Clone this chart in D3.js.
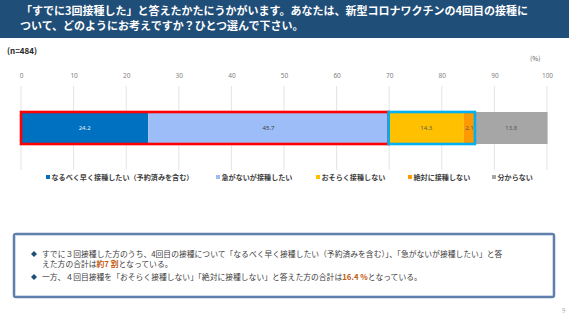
<!DOCTYPE html>
<html><head><meta charset="utf-8">
<script src="https://cdn.jsdelivr.net/npm/d3@7/dist/d3.min.js"></script>
<style>
body{margin:0;background:#fff;}
svg{display:block;font-family:"Noto Sans CJK JP","Noto Sans",sans-serif;}
</style></head>
<body><svg id="c" width="569" height="320"></svg>
<script>
const categories = ["なるべく早く接種したい（予約済みを含む）","急がないが接種したい","おそらく接種しない","絶対に接種しない","分からない"];
const values = [24.2, 45.7, 14.3, 2.1, 13.8];
const colors = ["#0070c0","#9dbdf8","#ffc000","#ff9900","#a6a6a6"];
const labelColors = ["#e8eef8","#404040","#595959","#595959","#595959"];
const ticks = [0,10,20,30,40,50,60,70,80,90,100];
const titleLines = ["「すでに3回接種した」と答えたかたにうかがいます。あなたは、新型コロナワクチンの4回目の接種に","ついて、どのようにお考えですか？ひとつ選んで下さい。"];
const nLabel = "(n=484)";
const groups = [{from:0,to:2,color:"#ff0000"},{from:2,to:4,color:"#00b0f0"}];

const svg = d3.select("#c");
// header
svg.append("rect").attr("x",0).attr("y",0).attr("width",569).attr("height",38).attr("fill","#1f4e79");
svg.selectAll("text.title").data(titleLines).join("text").attr("class","title")
  .attr("x",(d,i)=>i===0?21:20).attr("y",(d,i)=>14.5+i*15)
  .attr("fill","#fff").attr("font-size",11).attr("font-weight","bold").text(d=>d);

svg.append("text").attr("x",7).attr("y",54).attr("font-size",8).attr("font-weight","bold").attr("fill","#262626").text(nLabel);
svg.append("text").attr("x",530).attr("y",61).attr("font-size",6.5).attr("fill","#595959").text("(%)");

const x = d3.scaleLinear().domain([0,100]).range([21,547]);
// gridlines
svg.append("g").selectAll("line").data(ticks).join("line")
  .attr("x1",d=>x(d)).attr("x2",d=>x(d)).attr("y1",86).attr("y2",170)
  .attr("stroke","#d9d9d9").attr("stroke-width",0.7);
const ax = svg.append("g").attr("transform","translate(0,78)")
  .call(d3.axisTop(x).tickValues(ticks).tickSize(0).tickPadding(0));
ax.select(".domain").remove();
ax.selectAll("text").attr("font-size",6.5).attr("fill","#7f7f7f").attr("font-family","Noto Sans, sans-serif");

const cum = [0, ...d3.cumsum(values)];
const segs = values.map((v,i)=>({v, x0:cum[i], x1:cum[i+1], c:colors[i], lc:labelColors[i]}));
const barY = 112, barH = 32;
svg.append("g").selectAll("rect").data(segs).join("rect")
  .attr("x",d=>x(d.x0)).attr("width",d=>x(d.x1)-x(d.x0))
  .attr("y",barY).attr("height",barH).attr("fill",d=>d.c);
svg.append("g").selectAll("text").data(segs).join("text")
  .attr("x",d=>(x(d.x0)+x(d.x1))/2).attr("y",barY+barH/2+2.2)
  .attr("text-anchor","middle").attr("font-size",6).attr("font-family","Noto Sans, sans-serif")
  .attr("fill",d=>d.lc).text(d=>d.v.toFixed(1));
svg.append("g").selectAll("rect").data(groups).join("rect")
  .attr("x",d=>x(cum[d.from])).attr("width",d=>x(cum[d.to])-x(cum[d.from]))
  .attr("y",barY).attr("height",barH).attr("fill","none")
  .attr("stroke",d=>d.color).attr("stroke-width",2.6);

// legend
const legendX = [46,216,316,408,492];
const lg = svg.append("g").selectAll("g").data(categories).join("g")
  .attr("transform",(d,i)=>`translate(${legendX[i]},179.5)`);
lg.append("rect").attr("x",0).attr("y",-4.5).attr("width",4).attr("height",4).attr("fill",(d,i)=>colors[i]);
lg.append("text").attr("x",5.5).attr("y",0).attr("font-size",7.1).attr("font-weight","bold").attr("fill","#404040").text(d=>d);

// text box
svg.append("rect").attr("x",14).attr("y",234).attr("width",540).attr("height",63).attr("rx",2)
  .attr("fill","#fff").attr("stroke","#5f80ad").attr("stroke-width",2.5);
svg.append("rect").attr("x",15.5).attr("y",235.5).attr("width",537).attr("height",60)
  .attr("fill","none").attr("stroke","#c9d6e8").attr("stroke-width",0.6);
const bullet = (cx,cy)=>svg.append("path").attr("d",`M${cx},${cy-3}L${cx+3},${cy}L${cx},${cy+3}L${cx-3},${cy}Z`).attr("fill","#1f4e79");
bullet(34,254); bullet(34,277);
const tb = [
  {y:257, parts:[["すでに３回接種した方のうち、4回目の接種について「なるべく早く接種したい（予約済みを含む）」、「急がないが接種したい」と答","#404040",false]]},
  {y:266.5, parts:[["えた方の合計は","#404040",false],["約7 割","#c55a11",true],["となっている。","#404040",false]]},
  {y:280, parts:[["一方、４回目接種を「おそらく接種しない」「絶対に接種しない」と答えた方の合計は","#404040",false],["16.4 %","#c55a11",true],["となっている。","#404040",false]]}
];
tb.forEach(l=>{
  const t = svg.append("text").attr("x",42).attr("y",l.y).attr("font-size",7.8);
  l.parts.forEach(p=>t.append("tspan").attr("fill",p[1]).attr("font-weight",p[2]?"bold":"normal").text(p[0]));
});
svg.append("text").attr("x",562).attr("y",313).attr("font-size",6).attr("fill","#a6a6a6").text("9");
</script></body></html>
